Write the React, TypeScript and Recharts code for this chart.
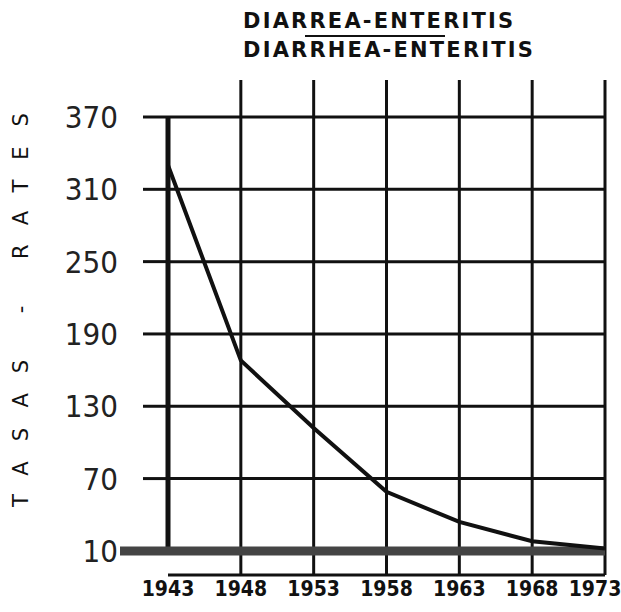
import React from 'react';
import {
  LineChart,
  Line,
  XAxis,
  YAxis,
  CartesianGrid,
  ReferenceLine,
} from 'recharts';

// ---------------------------------------------------------------------------
// Data
// ---------------------------------------------------------------------------
const years = [1943, 1948, 1953, 1958, 1963, 1968, 1973];
const rates = [330, 168, 112, 59, 34, 18, 12];
const rateTicks = [10, 70, 130, 190, 250, 310, 370];

const data = years.map((year, i) => ({ year, rate: rates[i] }));

const ink = '#111';
const band = '#444';

// year labels under the stubs; the last label is nudged in so it fits the page
function YearTick(props: any): React.JSX.Element {
  const { x, y, payload } = props;
  const isLast = payload.value === years[years.length - 1];
  return (
    <text
      x={isLast ? x - 10 : x}
      y={y + 19}
      textAnchor="middle"
      fill={ink}
      fontSize={21}
      fontWeight={700}
      fontFamily='"DejaVu Sans Condensed", sans-serif'
    >
      {payload.value}
    </text>
  );
}

// rate labels; the 10 tick gets the grey band carried out to the left
function RateTick(props: any): React.JSX.Element {
  const { x, y, payload } = props;
  const isBase = payload.value === rateTicks[0];
  return (
    <g>
      {isBase && <line x1={x} x2={x + 48} y1={y} y2={y} stroke={band} strokeWidth={9} />}
      <text
        x={x - 2}
        y={y}
        dy="0.355em"
        textAnchor="end"
        fill="#222"
        fontSize={31}
        fontWeight={300}
        fontFamily='"DejaVu Sans Condensed", sans-serif'
      >
        {payload.value}
      </text>
    </g>
  );
}

export default function App(): React.JSX.Element {
  return (
    <div
      style={{
        position: 'absolute',
        left: 0,
        top: 0,
        width: 621,
        height: 612,
        background: '#fff',
        fontFamily: '"DejaVu Sans", sans-serif',
        color: ink,
      }}
    >
      {/* ── Title ── */}
      <div
        style={{
          position: 'absolute',
          left: 243,
          top: 7,
          fontSize: 21,
          fontWeight: 700,
          letterSpacing: 2.2,
          whiteSpace: 'nowrap',
          lineHeight: '29px',
        }}
      >
        <div>DIARREA-ENTERITIS</div>
        <div>DIARRHEA-ENTERITIS</div>
      </div>
      <div
        style={{
          position: 'absolute',
          left: 305,
          top: 35,
          width: 140,
          height: 2,
          background: ink,
        }}
      />

      {/* ── Y label ── */}
      <div
        style={{
          position: 'absolute',
          left: 21,
          top: 300,
          transform: 'translate(-50%, -50%) rotate(-90deg)',
          fontSize: 21,
          letterSpacing: 20,
          whiteSpace: 'nowrap',
        }}
      >
        TASAS - RATES
      </div>

      <LineChart
        width={621}
        height={612}
        data={data}
        margin={{ top: 80, right: 16, left: 0, bottom: 0 }}
        style={{ position: 'absolute', left: 0, top: 0 }}
      >
        {/* the plot runs a little below 10 so the year lines poke out under the baseline */}
        <CartesianGrid vertical={false} stroke={ink} strokeWidth={3} strokeOpacity={1} />
        <XAxis
          dataKey="year"
          type="number"
          domain={[1943, 1973]}
          ticks={years}
          height={37}
          tickSize={0}
          axisLine={false}
          tickLine={false}
          tick={<YearTick />}
        />
        <XAxis
          xAxisId="top"
          dataKey="year"
          type="number"
          orientation="top"
          domain={[1943, 1973]}
          ticks={years.slice(1)}
          height={37}
          tickSize={37}
          axisLine={false}
          tickLine={{ stroke: ink, strokeWidth: 3 }}
          tickFormatter={() => ''}
        />
        <YAxis
          type="number"
          domain={[-10, 370]}
          ticks={rateTicks}
          width={168}
          tickSize={25}
          tickMargin={23}
          axisLine={false}
          tickLine={{ stroke: ink, strokeWidth: 3 }}
          tick={<RateTick />}
        />
        {/* year lines, full height, except the 1943 axis which stops at the baseline */}
        {years.slice(1).map((yr) => (
          <ReferenceLine key={`yr-${yr}`} x={yr} stroke={ink} strokeWidth={3} />
        ))}
        <ReferenceLine
          segment={[{ x: 1943, y: 10 }, { x: 1943, y: 370 }]}
          stroke={ink}
          strokeWidth={5}
        />
        <ReferenceLine y={10} stroke={band} strokeWidth={9} />
        <Line
          type="linear"
          dataKey="rate"
          stroke={ink}
          strokeWidth={4}
          dot={false}
          isAnimationActive={false}
        />
      </LineChart>
    </div>
  );
}
